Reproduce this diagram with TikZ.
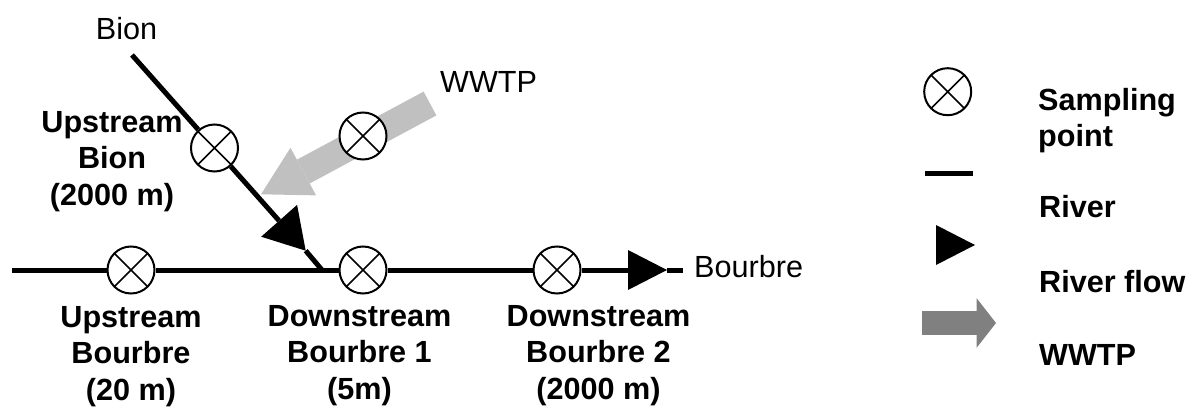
\documentclass[tikz,border=0pt]{standalone}
\usepackage{fontspec}
\setmainfont{Liberation Sans}
\usetikzlibrary{arrows.meta}
\definecolor{wwtpgray}{HTML}{C0C0C0}
\definecolor{keygray}{HTML}{808080}

\begin{document}
\begin{tikzpicture}[x=1pt,y=-1pt,
  river/.style={line width=5pt},
  flow/.style={-{Triangle[length=39pt,width=40pt,line width=0pt]}},
  flowb/.style={-{Triangle[length=40pt,width=48pt,line width=0pt]}},
  wwtp/.style={draw=wwtpgray,line width=27pt,-{Triangle[length=48pt,width=54pt,line width=0pt]}},
  wwtpkey/.style={draw=keygray,line width=24.3pt,-{Triangle[length=19.3pt,width=49.4pt,line width=0pt]}},
  sample/.style={circle,draw,line width=2pt,fill=white,minimum size=47pt,inner sep=0pt,
    path picture={\draw[line width=1.6pt] (path picture bounding box.north west) -- (path picture bounding box.south east)
      (path picture bounding box.north east) -- (path picture bounding box.south west);}},
  txt/.style={font=\fontsize{30.6}{36.5}\selectfont,inner sep=0pt},
  key/.style={txt,font=\fontsize{30.6}{36.5}\selectfont\bfseries,anchor=base west},
  site/.style={txt,font=\fontsize{30.6}{36.5}\selectfont\bfseries,align=center,anchor=north}]
\useasboundingbox (0,0) rectangle (1200,409);

\coordinate (bourbreW) at (12,270);
\coordinate (junc) at (322,270);
\coordinate (flowM) at (667,270);
\coordinate (bourbreE) at (683,270);
\coordinate (bionN) at (132,55);
\coordinate (flowB) at (305.7,250.7);
\coordinate (wwtpT) at (430,103.5);
\coordinate (wwtpH) at (261,194.3);

% effluent
\draw[wwtp] (wwtpT) -- (wwtpH);

% sampling points
\node[sample] (upB) at (131,270) {};
\node[sample] (downB1) at (363,270) {};
\node[sample] (downB2) at (557,270) {};
\node[sample] (upBion) at (214.5,148) {};
\node[sample] (wwtpS) at (363,136) {};

% rivers
\draw[river] (bourbreW) -- (upB) -- (junc) -- (downB1) -- (downB2);
\draw[river,flow] (downB2) -- (flowM);
\draw[river] (flowM) -- (bourbreE);
\draw[river] (bionN) -- (upBion);
\draw[river,flowb] (upBion) -- (flowB);
\draw[river] (flowB) -- (junc);

\node[txt,anchor=base] (bionL) at (126.5,40) {Bion};
\node[txt,anchor=base west] (wwtpL) at (440,93) {WWTP};
\node[txt,anchor=base west] (bourbreL) at (694,277) {Bourbre};
\node[site] (upBionL) at (112,111) {Upstream\\Bion\\(2000 m)};
\node[site] (upBL) at (131,306) {Upstream\\Bourbre\\(20 m)};
\node[site] (downB1L) at (359.5,305) {Downstream\\Bourbre 1\\(5m)};
\node[site] (downB2L) at (598.5,305) {Downstream\\Bourbre 2\\(2000 m)};

% legend
\node[sample] (keyS) at (947.7,91.7) {};
\coordinate (keyRa) at (925,174);
\coordinate (keyRb) at (973,174);
\draw[river] (keyRa) -- (keyRb);
\coordinate (keyFa) at (936,245);
\coordinate (keyFb) at (975,245);
\draw[river,flow] (keyFa) -- (keyFb);
\coordinate (keyWa) at (922.3,323);
\coordinate (keyWb) at (996,323);
\draw[wwtpkey] (keyWa) -- (keyWb);
\node[site,align=left,anchor=north west] (keySL) at (1038,88) {Sampling\\point};
\node[key] (keyRL) at (1039,217) {River};
\node[key] (keyFL) at (1039,292) {River flow};
\node[key] (keyWL) at (1039,365) {WWTP};
\end{tikzpicture}
\end{document}
